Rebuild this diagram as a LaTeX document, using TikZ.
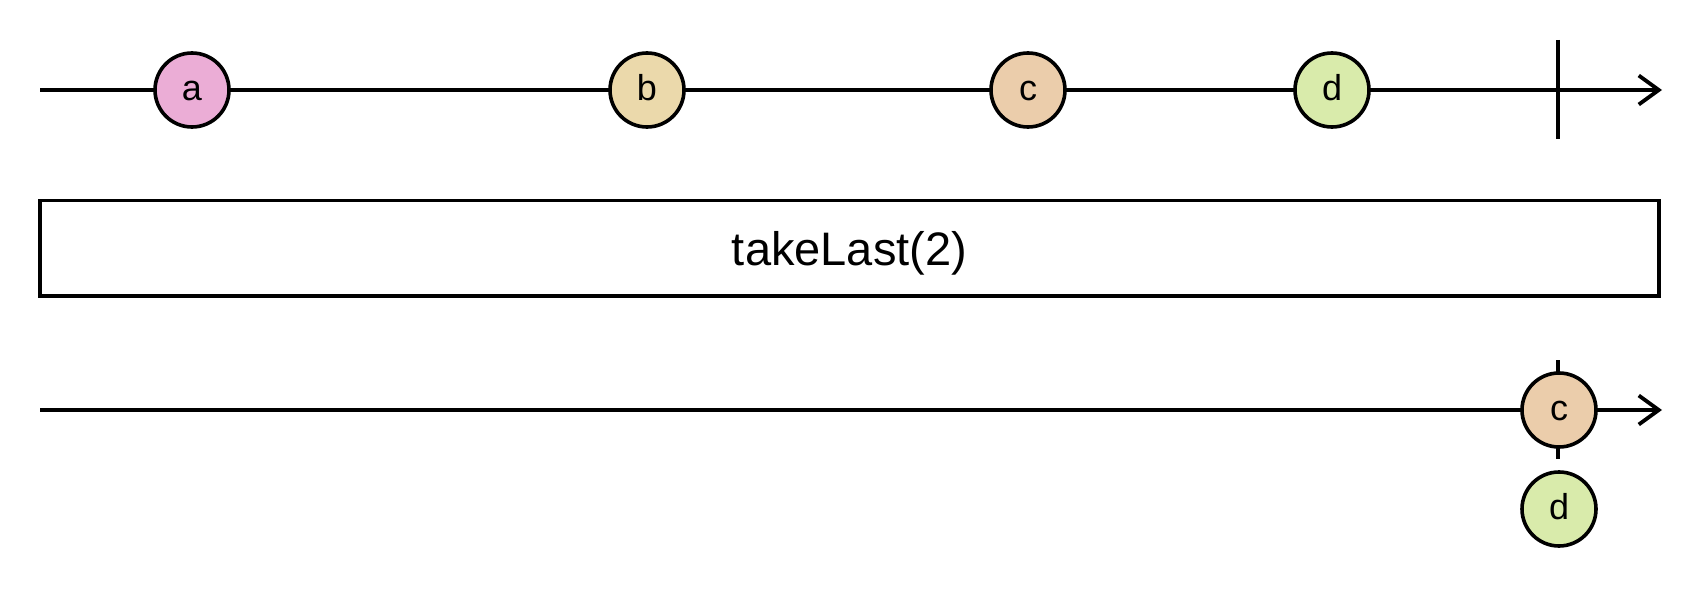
\documentclass[tikz,border=0pt]{standalone}
\usepackage{fontspec}
\setmainfont{Liberation Sans}
\usetikzlibrary{arrows.meta}
\definecolor{mA}{RGB}{235,173,214}
\definecolor{mB}{RGB}{235,217,171}
\definecolor{mC}{RGB}{235,205,171}
\definecolor{mD}{RGB}{217,235,171}
\begin{document}
\begin{tikzpicture}[x=1bp,y=-1bp,
  marble/.style={circle,draw=black,line width=3.6bp,minimum size=74bp,inner sep=0pt,
    font=\fontsize{36bp}{42bp}\selectfont,text height=25.8bp,text depth=4.5bp},
  timeline/.style={line width=3.8bp,-{Straight Barb[length=20bp,width=29bp]}},
  tick/.style={line width=3.8bp},
  opbox/.style={draw=black,line width=3.8bp,minimum width=1619bp,minimum height=95.5bp,inner sep=0pt,
    font=\fontsize{47bp}{54bp}\selectfont,text height=33.6bp,text depth=0bp}]
\useasboundingbox (0,0) rectangle (1700,600);
\fill[white] (0,0) rectangle (1700,600);
% top timeline
\coordinate (s1) at (40,90);
\coordinate (e1) at (1662,90);
\draw[timeline] (s1) -- (e1);
\coordinate (t1a) at (1558,40);
\coordinate (t1b) at (1558,139);
\draw[tick] (t1a) -- (t1b);
\node[marble,fill=mA] (a) at (192,90) {a};
\node[marble,fill=mB] (b) at (647,90) {b};
\node[marble,fill=mC] (c) at (1028,90) {c};
\node[marble,fill=mD] (d) at (1332,90) {d};
% operator box
\node[opbox] (op) at (849.5,248.3) {takeLast(2)};
% bottom timeline
\coordinate (s2) at (40,410);
\coordinate (e2) at (1662,410);
\draw[timeline] (s2) -- (e2);
\coordinate (t2a) at (1558,360);
\coordinate (t2b) at (1558,459);
\draw[tick] (t2a) -- (t2b);
\node[marble,fill=mC] (c2) at (1559,410) {c};
\node[marble,fill=mD] (d2) at (1559,509) {d};
\end{tikzpicture}
\end{document}
